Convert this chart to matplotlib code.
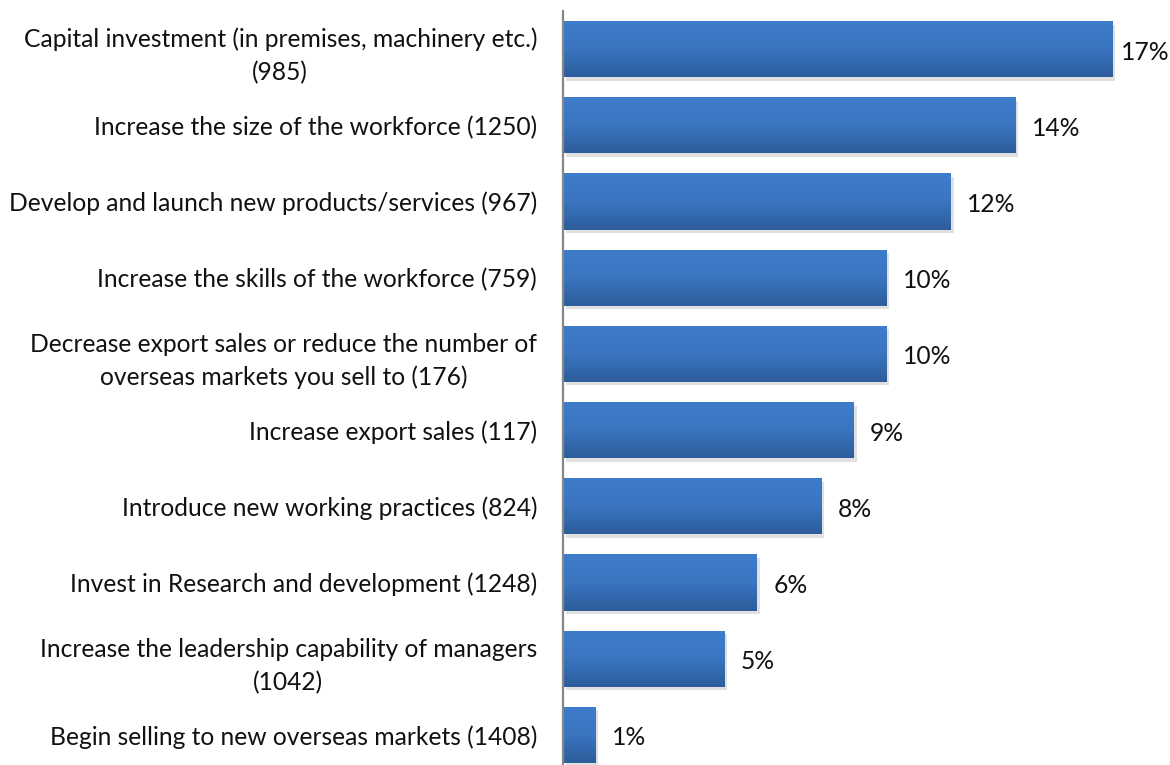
import numpy as np
import matplotlib
matplotlib.use("Agg")
import matplotlib.pyplot as plt
import matplotlib.patheffects as pe
from matplotlib.colors import LinearSegmentedColormap

plt.rcParams["font.family"] = ["Lato", "DejaVu Sans"]

labels = [
    "Capital investment (in premises, machinery etc.)\n(985)",
    "Increase the size of the workforce (1250)",
    "Develop and launch new products/services (967)",
    "Increase the skills of the workforce (759)",
    "Decrease export sales or reduce the number of\noverseas markets you sell to (176)",
    "Increase export sales (117)",
    "Introduce new working practices (824)",
    "Invest in Research and development (1248)",
    "Increase the leadership capability of managers\n(1042)",
    "Begin selling to new overseas markets (1408)",
]
values = [17, 14, 12, 10, 10, 9, 8, 6, 5, 1]

W, H = 1170, 765
fig = plt.figure(figsize=(W / 100, H / 100), dpi=100)
# axes runs past the bottom edge, so the last slot is cut off
left, top, bottom = 563, 11, 773
ax = fig.add_axes([left / W, 1 - bottom / H, (1145 - left) / W, (bottom - top) / H])

n = len(values)
y = np.arange(n)
bh = 0.735
xmax = 18
# light at the top of each bar, darker towards the bottom
grad = LinearSegmentedColormap.from_list("bar", ["#3e7dcb", "#3a75c0", "#2d5d9c"])
g = np.linspace(0, 1, 64).reshape(-1, 1)

bars = ax.barh(y, values, height=bh, color="#3875bf", zorder=2,
               path_effects=[pe.SimplePatchShadow(offset=(2, -2.5), shadow_rgbFace="#9a9a9a", alpha=0.3),
                             pe.Normal()])
for b, v in zip(bars, values):
    y0 = b.get_y()
    im = ax.imshow(g, cmap=grad, aspect="auto", zorder=3,
                   extent=[0, v, y0 + bh, y0], origin="upper")
    im.set_clip_path(b)
    # keep the longest label inside the figure
    ax.text(min(v + 0.5, xmax - 0.75), y0 + bh / 2 + 0.04, f"{v}%", va="center", ha="left",
            fontsize=17.7, color="#111111")

ax.set_xlim(0, xmax)
ax.set_ylim(n - 0.5, -0.5)
ax.set_yticks(y)
ax.set_yticklabels(labels, fontsize=17.7, linespacing=1.52, ha="right",
                   multialignment="center", color="#111111")
ax.tick_params(axis="y", length=0, pad=18.7)
ax.set_xticks([])
for s in ["top", "right", "bottom"]:
    ax.spines[s].set_visible(False)
ax.spines["left"].set_color("#868686")
ax.spines["left"].set_linewidth(1.6)
ax.spines["left"].set_zorder(5)

fig.savefig("out.png", dpi=100)
